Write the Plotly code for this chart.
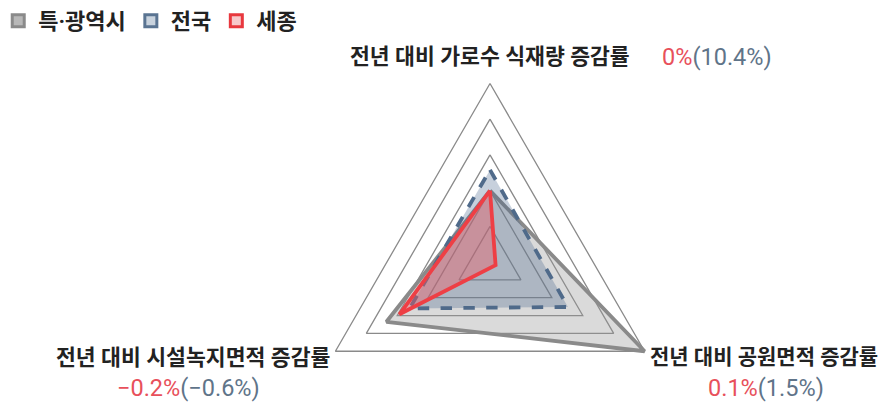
import numpy as np
import plotly.graph_objects as go

# 축(꼭짓점) 순서: 위, 오른쪽 아래, 왼쪽 아래
axes_labels = ["전년 대비 가로수 식재량 증감률", "전년 대비 공원면적 증감률", "전년 대비 시설녹지면적 증감률"]
sejong_txt = ["0%", "0.1%", "−0.2%"]
nation_txt = ["(10.4%)", "(1.5%)", "(−0.6%)"]

series_names = ["특·광역시", "전국", "세종"]
metro = [2.0, 5.0, 3.35]
nation = [2.58, 2.52, 2.6]
sejong = [2.0, 0.18, 2.93]
grid_levels = [1, 2, 3, 4, 5]

angles = np.radians([90, -30, 210])


def to_xy(r):
    r = np.append(r, r[0])
    a = np.append(angles, angles[0])
    return r * np.cos(a), r * np.sin(a)


FONT = "Roboto, Noto Sans CJK KR, sans-serif"
U = 35.7           # 단위당 픽셀
CX, CY = 490, 262  # 중심 픽셀

fig = go.Figure()

# 격자 삼각형
for lv in grid_levels:
    gx, gy = to_xy(np.full(3, lv))
    fig.add_trace(go.Scatter(x=gx, y=gy, mode="lines", showlegend=False, hoverinfo="skip",
                             line=dict(color="#8a8a8a", width=1.3)))

styles = [
    dict(line=dict(color="#8a8a8a", width=3.8), fillcolor="rgba(150,150,150,0.35)",
         icon="#b8b8b8", edge="#8a8a8a"),
    dict(line=dict(color="#4f6a8a", width=3.8, dash="dash"), fillcolor="rgba(70,100,140,0.30)",
         icon="#c9d3de", edge="#5a7492"),
    dict(line=dict(color="#ee3f45", width=3.8), fillcolor="rgba(240,90,100,0.40)",
         icon="#f7c9cb", edge="#e8383e"),
]

for name, vals, st in zip(series_names, [metro, nation, sejong], styles):
    sx, sy = to_xy(np.array(vals))
    fig.add_trace(go.Scatter(x=sx, y=sy, mode="lines", fill="toself", name=name, showlegend=False,
                             line=st["line"], fillcolor=st["fillcolor"]))

# 범례용
for name, st in zip(series_names, styles):
    fig.add_trace(go.Scatter(x=[None], y=[None], mode="markers", name="<b>" + name + "</b>",
                             marker=dict(symbol="square", size=12, color=st["icon"],
                                         line=dict(color=st["edge"], width=3))))

vx, vy = to_xy(np.full(3, grid_levels[-1]))
red = "#e8505b"
blue = "#5f7489"

label_pos = [
    dict(xanchor="center", yanchor="bottom", xshift=0, yshift=12),
    dict(xanchor="left", yanchor="middle", xshift=3, yshift=-6),
    dict(xanchor="right", yanchor="middle", xshift=-3, yshift=-6),
]
label_size = [21.6, 21.0, 21.6]
value_pos = [
    dict(xanchor="left", yanchor="bottom", xshift=170, yshift=11),
    dict(xanchor="center", yanchor="middle", xshift=121, yshift=-37),
    dict(xanchor="center", yanchor="middle", xshift=-147, yshift=-37),
]

for i in range(3):
    fig.add_annotation(x=vx[i], y=vy[i], text="<b>" + axes_labels[i] + "</b>", showarrow=False,
                       font=dict(family=FONT, size=label_size[i], color="#222222"), **label_pos[i])
    fig.add_annotation(x=vx[i], y=vy[i], showarrow=False,
                       text="<span style='color:%s'>%s</span><span style='color:%s'>%s</span>"
                            % (red, sejong_txt[i], blue, nation_txt[i]),
                       font=dict(family=FONT, size=23.5), **value_pos[i])

fig.update_layout(
    width=885, height=404,
    margin=dict(l=0, r=0, t=0, b=0, autoexpand=False),
    plot_bgcolor="white", paper_bgcolor="white",
    xaxis=dict(range=[-CX / U, (885 - CX) / U], visible=False, fixedrange=True),
    yaxis=dict(range=[-(404 - CY) / U, CY / U], visible=False, fixedrange=True),
    legend=dict(orientation="h", x=-0.002, y=1.0, xanchor="left", yanchor="top",
                font=dict(family=FONT, size=22, color="#222222"), itemwidth=30,
                bgcolor="rgba(0,0,0,0)"),
    showlegend=True,
)

fig.write_html("out.html", config={"displayModeBar": False},
               post_script="document.body.style.margin='0px';")
